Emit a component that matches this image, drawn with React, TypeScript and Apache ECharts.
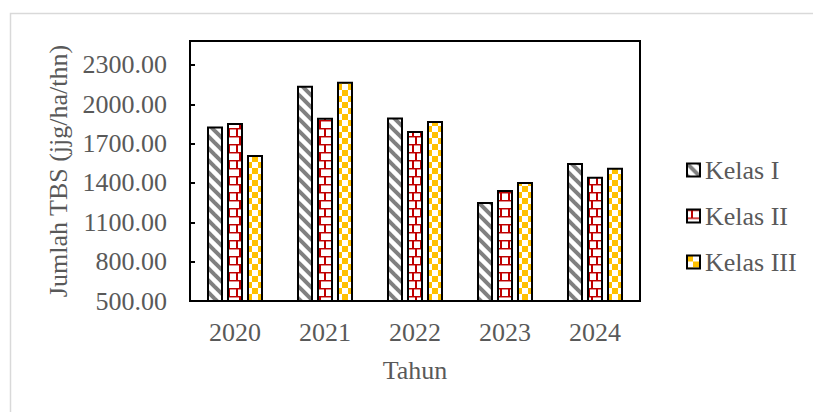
import { useEffect, useRef } from "react";
import * as echarts from "echarts";

// Categories and series values (jjg/ha/thn)
const years = ["2020", "2021", "2022", "2023", "2024"];
const seriesNames = ["Kelas I", "Kelas II", "Kelas III"];
const kelasI = [1830, 2142, 1900, 1256, 1552];
const kelasII = [1857, 1898, 1796, 1346, 1447];
const kelasIII = [1613, 2172, 1872, 1407, 1516];

// Value axis range and step
const yMin = 500;
const yMax = 2483;
const yStep = 300;

const FONT = '"Liberation Serif", "Times New Roman", serif';
const TEXT_COLOR = "#595959";

// Grid geometry used to anchor the fill tiles to each bar's left edge
const GRID_LEFT = 190;
const GRID_RIGHT = 173;
const CHART_W = 813;
const BAR_W = 16;
const BAR_GAP = 4;

type Painter = (ctx: CanvasRenderingContext2D, w: number, h: number) => void;

function makeTile(w: number, h: number, paint: Painter) {
  const c = document.createElement("canvas");
  c.width = w;
  c.height = h;
  const ctx = c.getContext("2d") as CanvasRenderingContext2D;
  ctx.fillStyle = "#ffffff";
  ctx.fillRect(0, 0, w, h);
  paint(ctx, w, h);
  return { image: c.toDataURL(), imageWidth: w, imageHeight: h, repeat: "repeat" };
}

// Wide downward diagonal stripes
const stripes = makeTile(12, 12, (ctx) => {
  ctx.strokeStyle = "#808080";
  ctx.lineWidth = 4;
  for (const off of [-12, 0, 12]) {
    ctx.beginPath();
    ctx.moveTo(off - 2, -2);
    ctx.lineTo(off + 14, 14);
    ctx.stroke();
  }
});

// Horizontal brick
const bricks = makeTile(16, 16, (ctx) => {
  const line = (x: number, y: number, w: number, h: number, c: string) => {
    ctx.fillStyle = c;
    ctx.fillRect(x, y, w, h);
  };
  line(0, 0, 16, 1, "#c00000");
  line(0, 1, 16, 1, "#e08a8a");
  line(0, 8, 16, 1, "#c00000");
  line(0, 9, 16, 1, "#e08a8a");
  line(4, 0, 2, 8, "#c00000");
  line(12, 0, 2, 8, "#c00000");
  line(0, 8, 1, 8, "#c00000");
  line(15, 8, 1, 8, "#c00000");
});

// Large checkerboard
const checks = makeTile(12, 12, (ctx) => {
  ctx.fillStyle = "#ffc000";
  ctx.fillRect(0, 0, 6, 6);
  ctx.fillRect(6, 6, 6, 6);
});

const values = [kelasI, kelasII, kelasIII];
const fills = [stripes, bricks, checks];

// Left edge of the bar of series s in category j
function barLeft(s: number, j: number) {
  const band = (CHART_W - GRID_LEFT - GRID_RIGHT) / years.length;
  const group = BAR_W * 3 + BAR_GAP * 2;
  return GRID_LEFT + band * j + band / 2 - group / 2 + s * (BAR_W + BAR_GAP);
}

export default function App() {
  const ref = useRef<HTMLDivElement>(null);

  useEffect(() => {
    if (!ref.current) return;
    const chart = echarts.init(ref.current, undefined, { renderer: "svg" });
    const axisText = { fontFamily: FONT, fontSize: 26, color: TEXT_COLOR };
    chart.setOption({
      animation: false,
      backgroundColor: "#ffffff",
      graphic: [
        {
          type: "rect",
          left: 8,
          top: 11,
          shape: { width: 900, height: 500 },
          style: { fill: "none", stroke: "#d9d9d9", lineWidth: 1.5 },
          silent: true,
        },
      ],
      grid: {
        left: GRID_LEFT,
        top: 41,
        right: GRID_RIGHT,
        bottom: 111,
        show: true,
        borderColor: "#000000",
        borderWidth: 2,
        backgroundColor: "transparent",
      },
      legend: {
        orient: "vertical",
        left: 681,
        top: 152,
        icon: "rect",
        itemWidth: 13,
        itemHeight: 13,
        itemGap: 20,
        data: seriesNames,
        textStyle: { ...axisText, lineHeight: 26 },
      },
      xAxis: {
        type: "category",
        data: years,
        axisLine: { lineStyle: { color: "#000000", width: 2 } },
        axisTick: {
          show: true,
          inside: true,
          alignWithLabel: true,
          length: 4,
          lineStyle: { color: "#000000", width: 2 },
        },
        axisLabel: { ...axisText, margin: 18 },
        name: "Tahun",
        nameLocation: "middle",
        nameGap: 56,
        nameTextStyle: axisText,
      },
      yAxis: {
        type: "value",
        min: yMin,
        max: yMax,
        interval: yStep,
        axisLine: { show: true, lineStyle: { color: "#000000", width: 2 } },
        axisTick: {
          show: true,
          inside: true,
          length: 5,
          lineStyle: { color: "#000000", width: 2 },
        },
        splitLine: { show: false },
        axisLabel: {
          ...axisText,
          margin: 23,
          showMaxLabel: false,
          formatter: (v: number) => v.toFixed(2),
        },
        name: "Jumlah TBS (jjg/ha/thn)",
        nameLocation: "middle",
        nameRotate: 90,
        nameGap: 115,
        nameTextStyle: axisText,
      },
      series: seriesNames.map((name, s) => ({
        name,
        type: "bar",
        barWidth: BAR_W,
        barGap: "25%",
        itemStyle: { color: fills[s], borderColor: "#000000", borderWidth: 2 },
        data: values[s].map((v, j) => ({
          value: v,
          itemStyle: { color: { ...fills[s], x: barLeft(s, j), y: 0 } },
        })),
      })),
    });
    return () => chart.dispose();
  }, []);

  return (
    <div
      ref={ref}
      style={{ position: "fixed", left: 0, top: 0, width: CHART_W, height: 412 }}
    />
  );
}
